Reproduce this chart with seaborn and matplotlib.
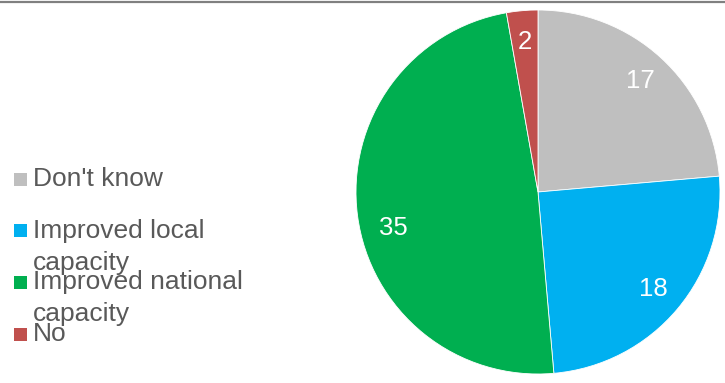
import textwrap

import matplotlib
matplotlib.use("Agg")
import matplotlib.pyplot as plt
from matplotlib.patches import Rectangle
import seaborn as sns

# Survey responses
categories = ["Don't know", "Improved local capacity", "Improved national capacity", "No"]
counts = [17, 18, 35, 2]
colors = ["#BFBFBF", "#00B0F0", "#00AF50", "#C0504D"]

sns.set_theme(style="white")
plt.rcParams["font.family"] = ["Liberation Sans", "DejaVu Sans"]

W, H = 725, 383
fig = plt.figure(figsize=(W / 100, H / 100), dpi=100)
fig.patch.set_facecolor("white")

# Pie: centre and radius in pixels
cx, cy, r = 538, 192, 182
ax = fig.add_axes([(cx - r) / W, (H - cy - r) / H, 2 * r / W, 2 * r / H])
total = sum(counts)
wedges, _, autotexts = ax.pie(
    counts,
    colors=sns.color_palette(colors),
    startangle=90,
    counterclock=False,
    autopct=lambda p: f"{p * total / 100:.0f}",
    pctdistance=0.83,
    wedgeprops=dict(linewidth=0.6, edgecolor="white"),
    textprops=dict(color="white", fontsize=18.5),
)
# nudge the large slice's value label a little lower, as in the best-fit layout
lx, ly = autotexts[2].get_position()
autotexts[2].set_position((lx + 0.03, ly - 0.09))
ax.set_xlim(-1, 1)
ax.set_ylim(-1, 1)
ax.set_aspect("equal")

# Overlay in pixel coordinates for the legend and the top rule
ov = fig.add_axes([0, 0, 1, 1], zorder=-1)
ov.set_xlim(0, W)
ov.set_ylim(H, 0)
ov.axis("off")
ov.axhline(1.5, color="#808080", linewidth=1.6)

legend_y0, legend_step = 179, 51.7
line_step = 32
sq = 13
for i, (label, col) in enumerate(zip(categories, colors)):
    yc = legend_y0 + i * legend_step
    ov.add_patch(Rectangle((14, yc - sq / 2), sq, sq, facecolor=col, edgecolor="none"))
    for j, line in enumerate(textwrap.wrap(label, width=18)):
        ov.text(33, yc + 7 + j * line_step, line, fontsize=19, color="#595959",
                ha="left", va="baseline")

fig.savefig("out.png", dpi=100, facecolor="white")
